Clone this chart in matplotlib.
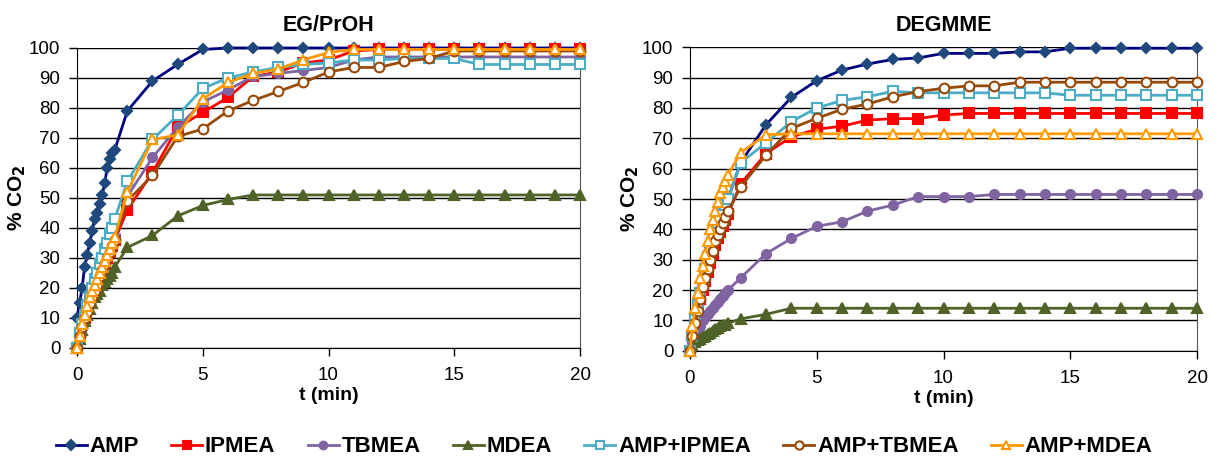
import numpy as np
import matplotlib.pyplot as plt

plt.rcParams['font.family'] = ['Liberation Sans', 'DejaVu Sans']

# time points (min): every 0.1 min up to 1.5, then every minute
t = [0, 0.1, 0.2, 0.3, 0.4, 0.5, 0.6, 0.7, 0.8, 0.9, 1.0, 1.1, 1.2, 1.3, 1.4, 1.5,
     2, 3, 4, 5, 6, 7, 8, 9, 10, 11, 12, 13, 14, 15, 16, 17, 18, 19, 20]

names = ['AMP', 'IPMEA', 'TBMEA', 'MDEA', 'AMP+IPMEA', 'AMP+TBMEA', 'AMP+MDEA']

# EG/PrOH
eg_amp = [10, 15, 20, 27, 31, 35, 39, 43, 45, 48, 51, 55, 60, 63, 65, 66,
          79, 89, 94.5, 99.5, 100, 100, 100, 100, 100, 100, 100, 100, 100, 100, 100, 100, 100, 100, 100]
eg_ipmea = [0, 5, 8, 10, 13, 15, 18, 20, 22, 24, 26, 28, 30, 32, 34, 36,
            46, 58.5, 73.5, 78.5, 83.5, 90.5, 92, 95, 96, 99, 99.5, 99.5, 99.5, 99.5, 99.5, 99.5, 99.5, 99.5, 99.5]
eg_tbmea = [0, 4, 7, 10, 13, 16, 18, 21, 23, 25, 27, 29, 31, 33, 35, 37,
            50.5, 63.5, 73.5, 82, 86, 90.5, 91.5, 92.5, 93.5, 96, 97, 97, 97, 97, 97, 97, 97, 97, 97]
eg_mdea = [0, 3, 6, 9, 11, 13, 15, 17, 18, 19, 21, 22, 23, 24, 25, 27,
           33.5, 37.5, 44, 47.5, 49.5, 51, 51, 51, 51, 51, 51, 51, 51, 51, 51, 51, 51, 51, 51]
eg_amp_ipmea = [0, 5, 8, 11, 14, 17, 20, 23, 25, 28, 30, 33, 35, 38, 40, 43,
                55.5, 69.5, 77.5, 86.5, 90, 92, 93.5, 94.5, 95, 96, 96, 96.5, 96.5, 96.5, 94.5, 94.5, 94.5, 94.5, 94.5]
eg_amp_tbmea = [0, 4, 7, 10, 12, 15, 17, 19, 21, 24, 26, 28, 30, 32, 34, 36,
                49, 57.5, 70.5, 73, 79, 82.5, 85.5, 88.5, 92, 93.5, 93.5, 95.5, 96.5, 99, 99, 99, 99, 99, 99]
eg_amp_mdea = [0, 4, 8, 11, 14, 17, 19, 21, 23, 25, 27, 29, 31, 33, 35, 37,
               52, 69.5, 71, 83, 88.5, 91.5, 93, 96, 98.5, 99.5, 99.5, 99.5, 99.5, 99.5, 99.5, 99.5, 99.5, 99.5, 99.5]

# DEGMME
dg_amp = [0, 4, 8, 12, 16, 20, 24, 28, 31, 34, 37, 40, 43, 46, 48, 50,
          62, 74.5, 83.5, 89, 92.5, 94.5, 96, 96.5, 98, 98, 98, 98.5, 98.5, 99.7, 99.7, 99.7, 99.7, 99.7, 99.7]
dg_ipmea = [0, 5, 9, 13, 17, 20, 23, 26, 29, 32, 35, 37, 39, 41, 43, 45,
            55, 65, 70.5, 73, 74, 76, 76.5, 76.5, 77.7, 78.2, 78.2, 78.2, 78.2, 78.2, 78.2, 78.2, 78.2, 78.2, 78.2]
dg_tbmea = [0, 3, 5, 7, 8, 10, 11, 12, 13, 14, 15, 16, 17, 18, 19, 20,
            24, 32, 37, 41, 42.5, 46, 48, 50.8, 50.8, 50.8, 51.5, 51.5, 51.5, 51.5, 51.5, 51.5, 51.5, 51.5, 51.5]
dg_mdea = [0, 2, 3, 3.5, 4, 4.5, 5, 5.5, 6, 6.5, 7, 7.5, 8, 8.5, 8.5, 9,
           10.5, 12, 14, 14, 14, 14, 14, 14, 14, 14, 14, 14, 14, 14, 14, 14, 14, 14, 14]
dg_amp_ipmea = [0, 5, 10, 15, 19, 23, 27, 31, 34, 37, 40, 42, 44, 46, 48, 50,
                62, 68.5, 75.5, 80, 82.5, 83.7, 85.5, 85, 85, 85, 85, 85, 85, 84.2, 84.2, 84.2, 84.2, 84.2, 84.2]
dg_amp_tbmea = [0, 5, 9, 13, 17, 21, 24, 27, 30, 33, 36, 38, 40, 42, 44, 46,
                54, 64.5, 73.3, 76.6, 79.6, 81.3, 83.7, 85.4, 86.5, 87.3, 87.3, 88.5, 88.5, 88.5, 88.5, 88.5, 88.5, 88.5, 88.5]
dg_amp_mdea = [0, 8, 14, 19, 24, 28, 32, 36, 40, 43, 46, 49, 52, 54, 56, 58,
               65.3, 71.2, 71.5, 71.5, 71.5, 71.5, 71.5, 71.5, 71.5, 71.5, 71.5, 71.5, 71.5, 71.5, 71.5, 71.5, 71.5, 71.5, 71.5]

eg_data = [eg_amp, eg_ipmea, eg_tbmea, eg_mdea, eg_amp_ipmea, eg_amp_tbmea, eg_amp_mdea]
dg_data = [dg_amp, dg_ipmea, dg_tbmea, dg_mdea, dg_amp_ipmea, dg_amp_tbmea, dg_amp_mdea]

# line colour, marker, marker face, marker edge, marker size
styles = [
    ('#000080', 'D', '#1F497D', '#1F497D', 5.5),
    ('#FF0000', 's', '#FF0000', '#FF0000', 6.5),
    ('#8064A2', 'o', '#8064A2', '#8064A2', 6.5),
    ('#4F6228', '^', '#4F6228', '#4F6228', 6.5),
    ('#4BACC6', 's', 'white', '#4BACC6', 7),
    ('#984807', 'o', 'white', '#984807', 7),
    ('#FF9900', '^', 'white', '#FF9900', 7.5),
]

fig = plt.figure(figsize=(12.19, 4.63), dpi=100)
ax1 = fig.add_axes([0.0632, 0.2484, 0.4126, 0.648])
ax2 = fig.add_axes([0.566, 0.2425, 0.416, 0.6553])

for ax, data, title in [(ax1, eg_data, 'EG/PrOH'), (ax2, dg_data, 'DEGMME')]:
    for name, y, (lc, mk, mfc, mec, ms) in zip(names, data, styles):
        ax.plot(t, y, color=lc, lw=2.0, marker=mk, ms=ms, mfc=mfc, mec=mec,
                mew=1.5, label=name, clip_on=False, zorder=3)
    ax.set_xlim(0, 20)
    ax.set_ylim(0, 100)
    ax.set_xticks([0, 5, 10, 15, 20])
    ax.set_yticks(range(0, 101, 10))
    ax.yaxis.grid(True, color='black', lw=1.0)
    ax.set_axisbelow(True)
    ax.tick_params(axis='both', labelsize=13.5, direction='out', length=6, width=1)
    ax.tick_params(axis='x', pad=8)
    ax.tick_params(axis='y', pad=6)
    ax.spines['top'].set_visible(False)
    ax.spines['right'].set_color('#555555')
    ax.set_title(title, fontsize=15.5, fontweight='bold', pad=12)
    ax.set_xlabel('t (min)', fontsize=14, fontweight='bold', labelpad=2)
    ax.set_ylabel('% CO$_\\mathbf{2}$', fontsize=15, fontweight='bold', labelpad=1)

handles, labels = ax1.get_legend_handles_labels()
fig.legend(handles, labels, loc='center', bbox_to_anchor=(0.4955, 0.035), ncol=7,
           frameon=False, prop={'size': 16, 'weight': 'bold'},
           handlelength=1.4, handletextpad=0.12, columnspacing=1.45, markerscale=0.85)

fig.savefig('out.png', dpi=100)
